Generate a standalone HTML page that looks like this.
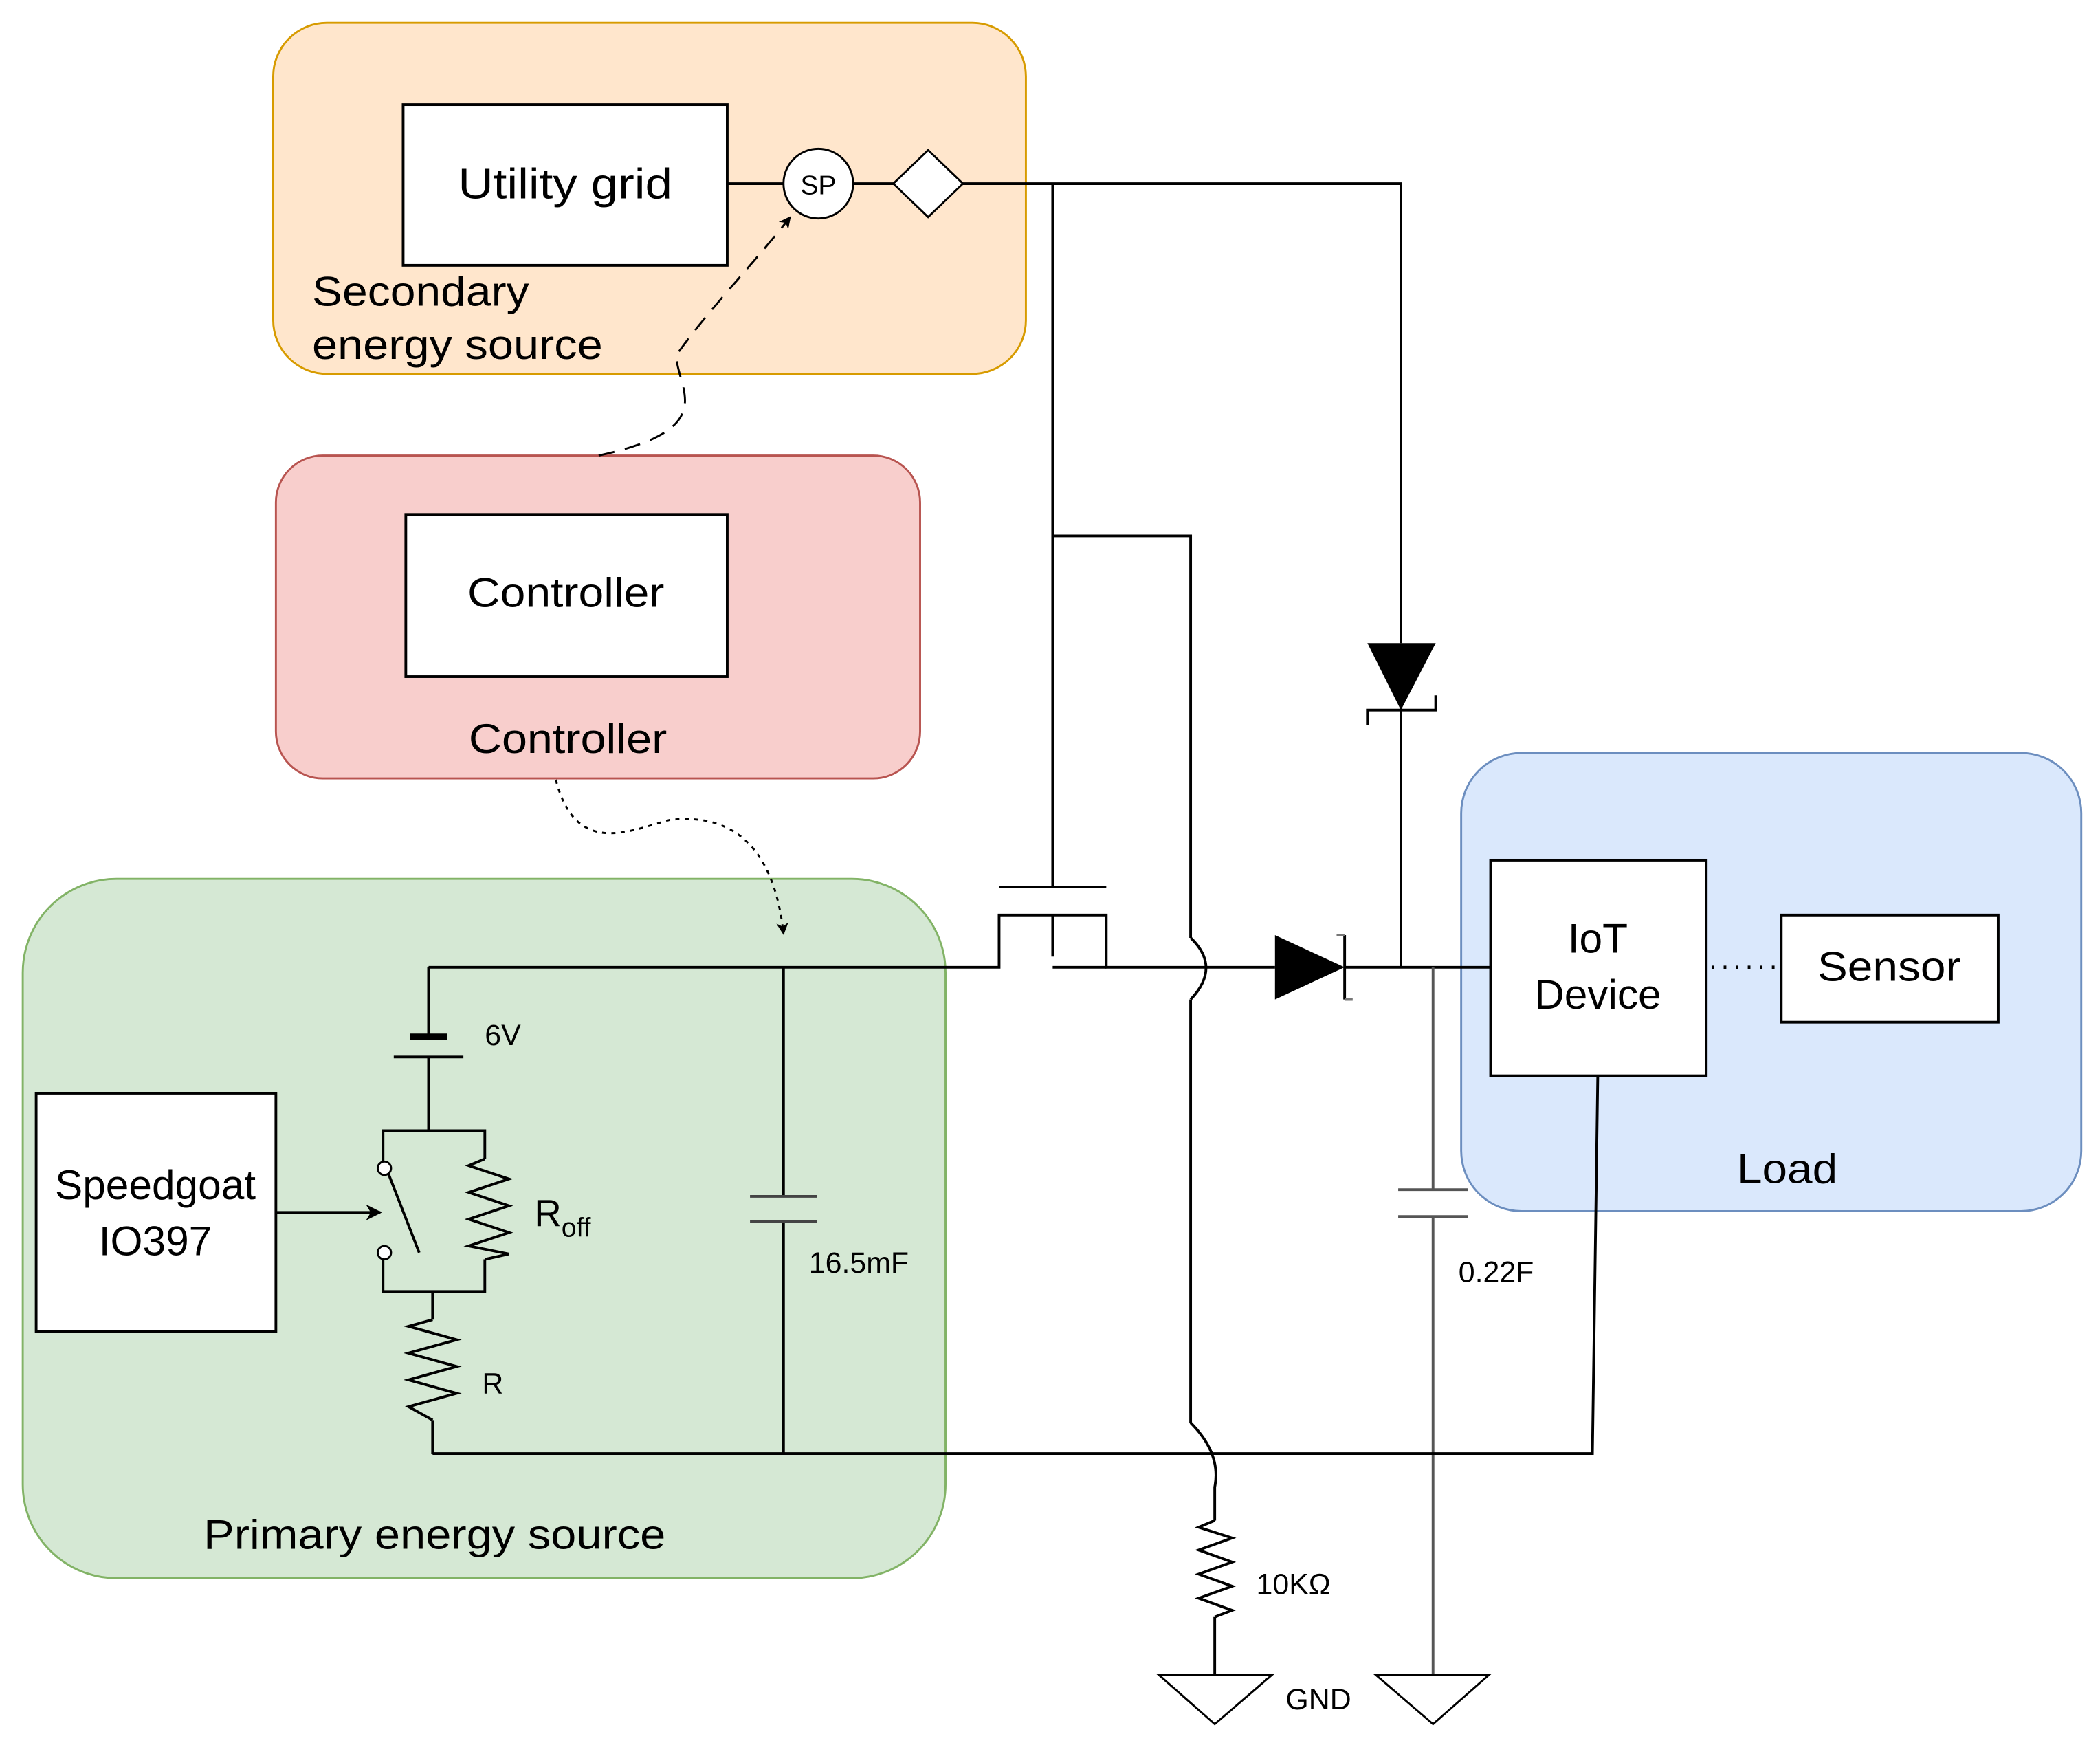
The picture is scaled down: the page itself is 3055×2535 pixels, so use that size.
<!DOCTYPE html>
<html><head><meta charset="utf-8"><style>html,body{margin:0;padding:0;background:#fff}svg{display:block}</style></head>
<body>
<svg width="3055" height="2535" viewBox="0 0 1568 1301" xmlns="http://www.w3.org/2000/svg" font-family="Liberation Sans, sans-serif">
<defs>
<marker id="ar" viewBox="0 0 10 10" refX="9" refY="5" markerWidth="6" markerHeight="6" orient="auto"><path d="M0,0 L10,5 L0,10 L3,5 z" fill="#000"/></marker>
</defs>
<rect x="0" y="0" width="1568" height="1301" fill="#fff"/>
<rect x="204" y="17" width="562" height="262" rx="40" fill="#ffe6cc" stroke="#d79b00" stroke-width="1.5"/>
<rect x="206" y="340" width="481" height="241" rx="35" fill="#f8cecc" stroke="#b85450" stroke-width="1.5"/>
<rect x="17" y="656" width="689" height="522" rx="70" fill="#d5e8d4" stroke="#82b366" stroke-width="1.5"/>
<rect x="1091" y="562" width="463" height="342" rx="45" fill="#dae8fc" stroke="#6c8ebf" stroke-width="1.5"/>

<g fill="none" stroke="#000" stroke-width="2">
<line x1="543" y1="137" x2="585" y2="137"/>
<line x1="637" y1="137" x2="667" y2="137"/>
<polyline points="719,137 1046,137 1046,480"/>
<line x1="786" y1="137" x2="786" y2="662"/>
<polyline points="786,400 889,400 889,700"/>
<path d="M889,700 Q912,722 889,746"/>
<line x1="889" y1="746" x2="889" y2="1062"/>
<path d="M889,1062 Q912,1085 907,1110"/>
<line x1="907" y1="1110" x2="907" y2="1135"/>
<polyline points="907,1135 895,1140 920,1148 895,1157 920,1166 895,1175 920,1184 895,1193 920,1202 907,1207"/>
<line x1="907" y1="1207" x2="907" y2="1250"/>
<line x1="746" y1="662" x2="826" y2="662"/>
<polyline points="320,722 746,722 746,683 826,683 826,722 889,722"/>
<line x1="786" y1="683" x2="786" y2="714"/>
<line x1="786" y1="722" x2="826" y2="722"/>
<line x1="889" y1="722" x2="952" y2="722"/>
<line x1="1004" y1="722" x2="1113" y2="722"/>
<line x1="1046" y1="530" x2="1046" y2="722"/>
<line x1="1070" y1="722" x2="1070" y2="888" stroke="#555"/>
<line x1="1070" y1="908" x2="1070" y2="1250" stroke="#555"/>
<line x1="1044" y1="888" x2="1096" y2="888" stroke="#555"/>
<line x1="1044" y1="908" x2="1096" y2="908" stroke="#555"/>
<polygon points="865,1250 950,1250 907,1287" stroke-width="1.5"/>
<polygon points="1027,1250 1112,1250 1070,1287" stroke-width="1.5"/>
<polyline points="1193,803 1189,1085 323,1085"/>
<line x1="320" y1="722" x2="320" y2="773"/>
<line x1="306" y1="774" x2="334" y2="774" stroke-width="5"/>
<line x1="294" y1="789" x2="346" y2="789"/>
<line x1="320" y1="789" x2="320" y2="844"/>
<polyline points="286,868 286,844 362,844 362,865"/>
<polyline points="286,940 286,964 362,964 362,940"/>
<polyline points="362,865 350,870 380,880 350,890 380,900 350,910 380,920 350,930 380,936 362,940"/>
<line x1="290" y1="876" x2="313" y2="935"/>
<line x1="323" y1="964" x2="323" y2="985"/>
<polyline points="323,985 305,990 341,1000 305,1010 341,1020 305,1030 341,1040 305,1050 323,1060"/>
<line x1="323" y1="1060" x2="323" y2="1085"/>
<line x1="206" y1="905" x2="284" y2="905" marker-end="url(#ar)"/>
<line x1="585" y1="722" x2="585" y2="893"/>
<line x1="585" y1="912" x2="585" y2="1085"/>
<line x1="560" y1="893" x2="610" y2="893" stroke="#444"/>
<line x1="560" y1="912" x2="610" y2="912" stroke="#444"/>
<line x1="1278" y1="722" x2="1330" y2="722" stroke-dasharray="2,7" stroke-width="2.5"/>
<path d="M447,340 C540,320 505,290 505,265 C530,230 560,200 590,162" stroke-dasharray="12,8" stroke-width="1.5" marker-end="url(#ar)"/>
<path d="M415,582 C430,640 470,620 500,612 C560,605 580,650 585,697" stroke-dasharray="3,4" stroke-width="1.5" marker-end="url(#ar)"/>
</g>
<circle cx="287" cy="872" r="5" fill="#fff" stroke="#000" stroke-width="1.5"/>
<circle cx="287" cy="935" r="5" fill="#fff" stroke="#000" stroke-width="1.5"/>
<polygon points="952,698 952,746 1004,722" fill="#000"/>
<polyline points="1004,698 1004,746" fill="none" stroke="#000" stroke-width="2"/>
<polyline points="998,698 1004,698" fill="none" stroke="#777" stroke-width="2"/>
<polyline points="1004,746 1010,746" fill="none" stroke="#777" stroke-width="2"/>
<polygon points="1021,480 1072,480 1046,530" fill="#000"/>
<polyline points="1021,541 1021,530 1072,530 1072,519" fill="none" stroke="#000" stroke-width="2"/>
<rect x="301" y="78" width="242" height="120" fill="#fff" stroke="#000" stroke-width="2"/>
<circle cx="611" cy="137" r="26" fill="#fff" stroke="#000" stroke-width="1.5"/>
<polygon points="693,112 719,137 693,162 667,137" fill="#fff" stroke="#000" stroke-width="1.5"/>
<rect x="303" y="384" width="240" height="121" fill="#fff" stroke="#000" stroke-width="2"/>
<rect x="27" y="816" width="179" height="178" fill="#fff" stroke="#000" stroke-width="2"/>
<rect x="1113" y="642" width="161" height="161" fill="#fff" stroke="#000" stroke-width="2"/>
<rect x="1330" y="683" width="162" height="80" fill="#fff" stroke="#000" stroke-width="2"/>
<g fill="#000">
<text x="342" y="148" font-size="32" textLength="160" lengthAdjust="spacingAndGlyphs">Utility grid</text>
<text x="611" y="145" font-size="20" text-anchor="middle">SP</text>
<text x="349" y="453" font-size="31" textLength="147" lengthAdjust="spacingAndGlyphs">Controller</text>
<text x="350" y="562" font-size="31" textLength="148" lengthAdjust="spacingAndGlyphs">Controller</text>
<text x="116" y="895" font-size="31" text-anchor="middle">Speedgoat</text>
<text x="116" y="937" font-size="31" text-anchor="middle">IO397</text>
<text x="1193" y="711" font-size="31" text-anchor="middle">IoT</text>
<text x="1193" y="753" font-size="31" text-anchor="middle">Device</text>
<text x="1357" y="732" font-size="31" textLength="107" lengthAdjust="spacingAndGlyphs">Sensor</text>
<text x="1297" y="883" font-size="31" textLength="75" lengthAdjust="spacingAndGlyphs">Load</text>
<text x="152" y="1156" font-size="31" textLength="345" lengthAdjust="spacingAndGlyphs">Primary energy source</text>
<text x="233" y="228" font-size="31" textLength="162" lengthAdjust="spacingAndGlyphs">Secondary</text>
<text x="233" y="268" font-size="31" textLength="217" lengthAdjust="spacingAndGlyphs">energy source</text>
</g>
<g fill="#000" font-size="22">
<text x="362" y="780">6V</text>
<text x="399" y="915" font-size="28">R<tspan font-size="20" dy="8">off</tspan></text>
<text x="360" y="1040">R</text>
<text x="604" y="950">16.5mF</text>
<text x="1089" y="957">0.22F</text>
<text x="938" y="1190">10KΩ</text>
<text x="960" y="1276">GND</text>
</g>
</svg>
</body></html>
